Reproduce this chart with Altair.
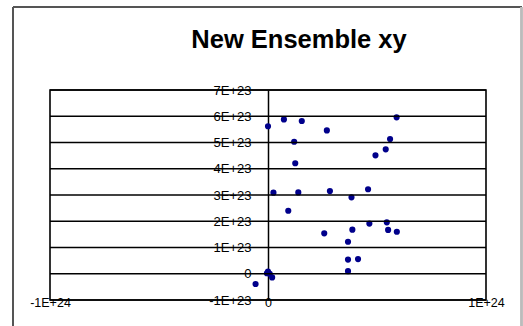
import altair as alt
import pandas as pd

# scatter values
x_vals = [0.000e24, 0.073e24, 0.155e24, 0.270e24, 0.120e24, 0.125e24, 0.493e24, 0.540e24,
          0.560e24, 0.590e24, 0.025e24, 0.139e24, 0.284e24, 0.459e24, 0.383e24, 0.093e24,
          0.258e24, 0.387e24, 0.465e24, 0.545e24, 0.551e24, 0.591e24, 0.367e24, 0.367e24,
          0.413e24, 0.367e24, 0.000e24, 0.019e24, -0.057e24, -0.005e24, 0.008e24]
y_vals = [5.62e23, 5.88e23, 5.82e23, 5.46e23, 5.03e23, 4.21e23, 4.51e23, 4.74e23,
          5.13e23, 5.96e23, 3.09e23, 3.10e23, 3.15e23, 3.22e23, 2.91e23, 2.40e23,
          1.54e23, 1.68e23, 1.91e23, 1.96e23, 1.67e23, 1.60e23, 1.22e23, 0.54e23,
          0.56e23, 0.10e23, 0.08e23, -0.14e23, -0.39e23, 0.02e23, 0.00e23]

y_ticks = [-1e23, 0, 1e23, 2e23, 3e23, 4e23, 5e23, 6e23, 7e23]
x_ticks = [-1e24, 0, 1e24]

pts = pd.DataFrame({"x": x_vals, "y": y_vals})
grid = pd.DataFrame({"v": y_ticks})

FONT = "Liberation Sans"
W, H = 436, 210
sci = "datum.value == 0 ? '0' : (datum.value < 0 ? '-' : '') + replace(format(abs(datum.value), '.0e'), 'e', 'E')"

xscale = alt.Scale(domain=[-1e24, 1e24], nice=False, zero=False)
yscale = alt.Scale(domain=[-1e23, 7e23], nice=False, zero=False)

x_axis = alt.Axis(values=x_ticks, labelExpr=sci, title=None, grid=False, ticks=False,
                  domain=False, labelFont=FONT, labelFontSize=12.5, labelColor="black",
                  labelBaseline="middle", labelPadding=2, labelFlush=False,
                  labelOverlap=False, labelBound=False)
y_axis = alt.Axis(values=y_ticks, labelExpr=sci, title=None, grid=False, ticks=False,
                  domainColor="black", domainWidth=1.5, offset=-W / 2,
                  labelFont=FONT, labelFontSize=13, labelColor="black",
                  labelPadding=17, labelFlush=False, labelOverlap=False, labelBound=False)

points = alt.Chart(pts).mark_circle(size=38, color="#00008b", opacity=1).encode(
    x=alt.X("x:Q", scale=xscale, axis=x_axis),
    y=alt.Y("y:Q", scale=yscale, axis=y_axis),
)

# horizontal gridlines at every y tick
gridlines = alt.Chart(grid).mark_rule(color="black", strokeWidth=1.6).encode(
    y=alt.Y("v:Q", scale=yscale, axis=None)
)

# outer chart frame
frame_top = alt.Chart(grid).mark_rule(color="#555555", strokeWidth=2).encode(
    x=alt.value(-37), x2=alt.value(472), y=alt.value(-83))
frame_left = alt.Chart(grid).mark_rule(color="#555555", strokeWidth=2).encode(
    x=alt.value(-37), y=alt.value(-83), y2=alt.value(240))
frame_right = alt.Chart(grid).mark_rule(color="#bbbbbb", strokeWidth=1.5).encode(
    x=alt.value(471.5), y=alt.value(-83), y2=alt.value(240))

chart = alt.layer(points, gridlines, frame_top, frame_left, frame_right).resolve_axis(
    y="independent"
).properties(
    width=W, height=H,
    title=alt.TitleParams("New Ensemble xy", font=FONT, fontSize=25.5, fontWeight="bold",
                          color="black", anchor="middle", dx=31, offset=-67,
                          baseline="alphabetic"),
    autosize=alt.AutoSizeParams(type="none"),
    padding={"left": 50, "top": 90, "right": 37, "bottom": 26},
    background="white",
).configure_view(stroke="black", strokeWidth=1.6)

chart.save("out.html", embed_options={"renderer": "svg", "actions": False})
